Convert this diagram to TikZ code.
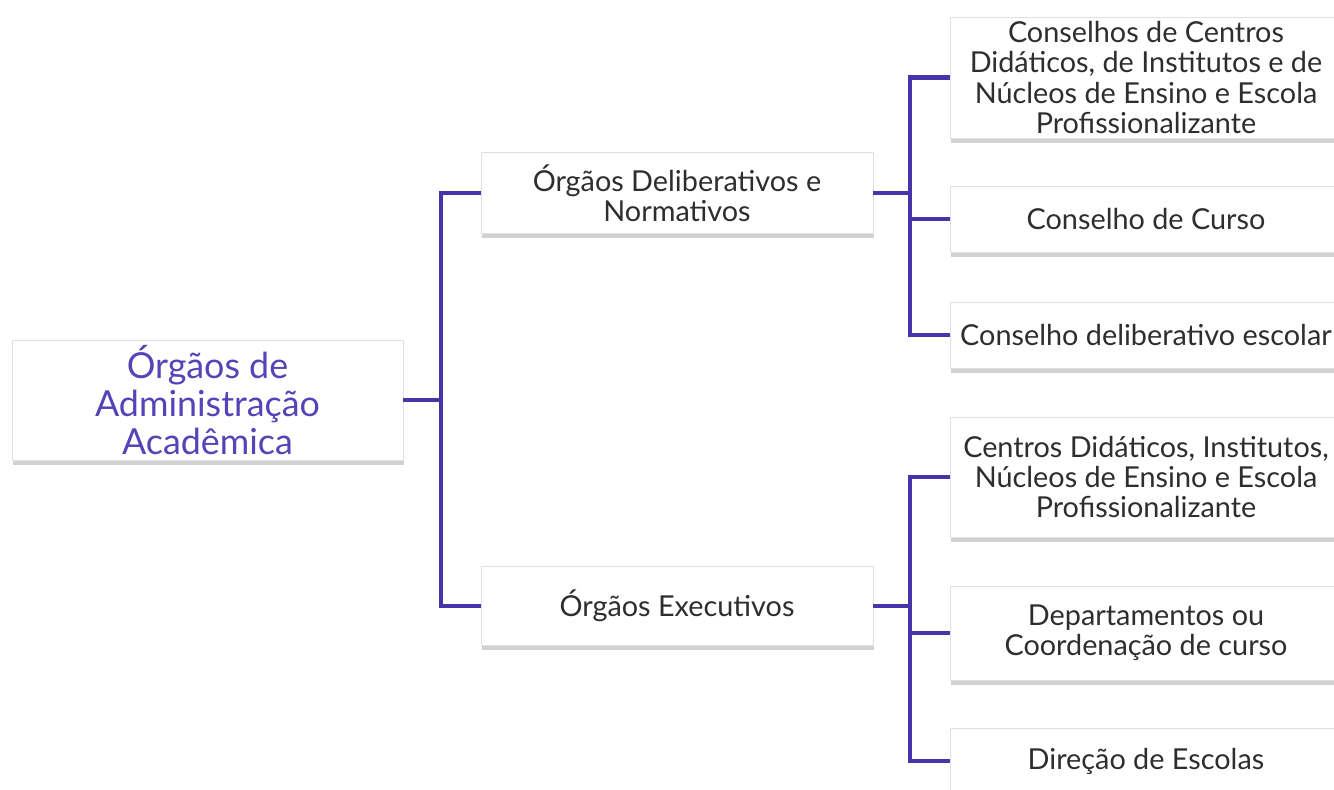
\documentclass[tikz,border=0pt]{standalone}
\usepackage{fontspec}
\setmainfont{Lato}
\usetikzlibrary{shadows}
\definecolor{linkpurple}{HTML}{4634A8}
\definecolor{rootpurple}{HTML}{5544B8}
\definecolor{textgray}{HTML}{2E2E2E}
\begin{document}
\begin{tikzpicture}[
  box/.style={draw=black!12, fill=white, line width=0.5pt, align=center,
    text=textgray, font=\fontsize{16.4}{17.2}\selectfont,
    drop shadow={shadow xshift=0.4pt, shadow yshift=-2.6pt, opacity=0.25, fill=black!70},
    inner sep=0pt, minimum width=7.84cm},
  link/.style={linkpurple, line width=2.3pt}
]

\useasboundingbox (0,0) rectangle (26.68,-15.8);

%root node on the left
\node[box, minimum width=7.82cm, minimum height=2.4cm, text=rootpurple,
  font=\fontsize{20.4}{21.6}\selectfont] (root) at (4.15,-8.0)
  {Órgãos de\\Administração\\Acadêmica};

%middle column
\node[box, minimum height=1.62cm] (delib) at (13.54,-3.86) {Órgãos Deliberativos e\\Normativos};
\node[box, minimum height=1.58cm] (exec) at (13.54,-12.12) {Órgãos Executivos};

%right column, boxes run out past the page edge
\node[box, minimum height=2.42cm] (ccd) at (22.92,-1.55) {Conselhos de Centros\\Didáticos, de Institutos e de\\Núcleos de Ensino e Escola\\Profissionalizante};
\node[box, minimum height=1.32cm] (ccurso) at (22.92,-4.38) {Conselho de Curso};
\node[box, minimum height=1.32cm] (cdesc) at (22.92,-6.70) {Conselho deliberativo escolar};
\node[box, minimum height=2.40cm] (centros) at (22.92,-9.54) {Centros Didáticos, Institutos,\\Núcleos de Ensino e Escola\\Profissionalizante};
\node[box, minimum height=1.88cm] (depto) at (22.92,-12.66) {Departamentos ou\\Coordenação de curso};
\node[box, minimum height=1.32cm] (direc) at (22.92,-15.22) {Direção de Escolas};

%vertical bus lines
\coordinate (busL) at (8.82,0);
\coordinate (busR) at (18.2,0);

%connectors from root
\draw[link] (root.east) -- (root.east -| busL) |- (delib.west);
\draw[link] (root.east -| busL) |- (exec.west);

%connectors from middle boxes
\draw[link] (delib.east) -- (delib.east -| busR) |- (ccd.west);
\draw[link] (delib.east -| busR) |- (ccurso.west);
\draw[link] (delib.east -| busR) |- (cdesc.west);
\draw[link] (exec.east) -- (exec.east -| busR) |- (centros.west);
\draw[link] (exec.east -| busR) |- (depto.west);
\draw[link] (exec.east -| busR) |- (direc.west);
\end{tikzpicture}
\end{document}
